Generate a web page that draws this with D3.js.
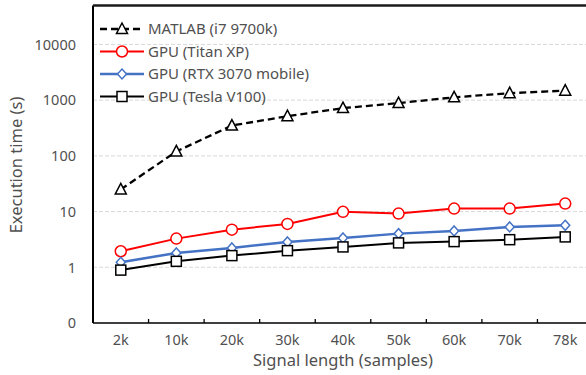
<!DOCTYPE html>
<html>
<head>
<meta charset="utf-8">
<script src="https://cdn.jsdelivr.net/npm/d3@7"></script>
<style>
  body { margin: 0; background: #fff; }
  svg { display: block; font-family: "Noto Sans", "Liberation Sans", sans-serif; }
  .tick-label { fill: #505050; font-size: 14.5px; }
  .axis-title { fill: #505050; font-size: 16.5px; }
  .legend-label { fill: #505050; font-size: 15px; }
</style>
</head>
<body>
<svg id="chart" width="586" height="375"></svg>
<script>
const categories = ['2k', '10k', '20k', '30k', '40k', '50k', '60k', '70k', '78k'];
const yTicks = [0.1, 1, 10, 100, 1000, 10000];

const matlab = [25, 120, 350, 515, 720, 885, 1125, 1335, 1480];
const titanXp = [1.94, 3.27, 4.74, 6.0, 9.9, 9.2, 11.3, 11.3, 13.9];
const rtx3070 = [1.23, 1.81, 2.23, 2.85, 3.37, 4.02, 4.49, 5.3, 5.66];
const teslaV100 = [0.89, 1.28, 1.62, 1.99, 2.32, 2.74, 2.89, 3.13, 3.51];

const series = [
  { name: 'MATLAB (i7 9700k)', values: matlab, color: '#000', dash: '7,4', width: 2.3, marker: 'triangle' },
  { name: 'GPU (Titan XP)', values: titanXp, color: '#ff0000', dash: null, width: 2, marker: 'circle' },
  { name: 'GPU (RTX 3070 mobile)', values: rtx3070, color: '#4472c4', dash: null, width: 2.5, marker: 'diamond' },
  { name: 'GPU (Tesla V100)', values: teslaV100, color: '#000', dash: null, width: 2, marker: 'square' }
];

const margin = { left: 93, top: 5.5, bottom: 52 };
const plotWidth = 500;
const svg = d3.select('#chart');
const height = 375 - margin.top - margin.bottom;

const x = d3.scaleBand().domain(categories).range([0, plotWidth]);
const y = d3.scaleLog().domain([0.1, 50000]).range([height, 0]);

const g = svg.append('g').attr('transform', `translate(${margin.left},${margin.top})`);

// dashed gridlines
g.selectAll('.grid')
  .data(yTicks.slice(1))
  .enter()
  .append('line')
  .attr('x1', 0)
  .attr('x2', plotWidth)
  .attr('y1', d => y(d))
  .attr('y2', d => y(d))
  .attr('stroke', '#d9d9d9')
  .attr('stroke-width', 1)
  .attr('stroke-dasharray', '4,2');

// y axis labels (0.1 shown as 0)
g.selectAll('.ylab')
  .data(yTicks)
  .enter()
  .append('text')
  .attr('class', 'tick-label')
  .attr('x', -17)
  .attr('y', d => y(d))
  .attr('dy', '0.36em')
  .attr('text-anchor', 'end')
  .text(d => (d < 1 ? '0' : d3.format('d')(d)));

// x axis labels
g.selectAll('.xlab')
  .data(categories)
  .enter()
  .append('text')
  .attr('class', 'tick-label')
  .attr('x', d => x(d) + x.bandwidth() / 2)
  .attr('y', height + 22)
  .attr('text-anchor', 'middle')
  .text(d => d);

// inside tick marks between categories
g.selectAll('.xtick')
  .data(categories.slice(1))
  .enter()
  .append('line')
  .attr('x1', d => x(d))
  .attr('x2', d => x(d))
  .attr('y1', height)
  .attr('y2', height - 4)
  .attr('stroke', '#000')
  .attr('stroke-width', 1.3);

// frame: left, top, bottom
g.append('line').attr('x1', 0).attr('x2', 0).attr('y1', 0).attr('y2', height)
  .attr('stroke', '#000').attr('stroke-width', 2);
g.append('line').attr('x1', 0).attr('x2', plotWidth).attr('y1', 0).attr('y2', 0)
  .attr('stroke', '#1a1a1a').attr('stroke-width', 2.5);
g.append('line').attr('x1', 0).attr('x2', plotWidth).attr('y1', height).attr('y2', height)
  .attr('stroke', '#000').attr('stroke-width', 1.5);

const cx = i => x(categories[i]) + x.bandwidth() / 2;

function drawMarker(sel, kind, color) {
  if (kind === 'circle') {
    sel.append('circle').attr('r', 5.5)
      .attr('fill', '#fff').attr('stroke', color).attr('stroke-width', 1.5);
  } else if (kind === 'triangle') {
    sel.append('path').attr('d', 'M0,-6L5.5,4.5L-5.5,4.5Z')
      .attr('fill', '#fff').attr('stroke', color).attr('stroke-width', 1.5);
  } else if (kind === 'diamond') {
    sel.append('path').attr('d', 'M0,-5L4.5,0L0,5L-4.5,0Z')
      .attr('fill', '#fff').attr('stroke', color).attr('stroke-width', 1.5);
  } else {
    sel.append('rect').attr('x', -5).attr('y', -5).attr('width', 10).attr('height', 10)
      .attr('fill', '#fff').attr('stroke', color).attr('stroke-width', 1.5);
  }
}

const line = d3.line().x((d, i) => cx(i)).y(d => y(d));

series.forEach(s => {
  g.append('path')
    .datum(s.values)
    .attr('fill', 'none')
    .attr('stroke', s.color)
    .attr('stroke-width', s.width)
    .attr('stroke-dasharray', s.dash)
    .attr('d', line);
  s.values.forEach((v, i) => {
    const m = g.append('g').attr('transform', `translate(${cx(i)},${y(v)})`);
    drawMarker(m, s.marker, s.color);
  });
});

// legend
const legend = svg.append('g').attr('transform', 'translate(100,29)');
series.forEach((s, i) => {
  const row = legend.append('g').attr('transform', `translate(0,${i * 22.5})`);
  row.append('line')
    .attr('x1', 0).attr('x2', 44)
    .attr('stroke', s.color)
    .attr('stroke-width', s.width)
    .attr('stroke-dasharray', s.dash);
  drawMarker(row.append('g').attr('transform', 'translate(22,0)'), s.marker, s.color);
  row.append('text')
    .attr('class', 'legend-label')
    .attr('x', 48)
    .attr('dy', '0.36em')
    .text(s.name);
});

// axis titles
svg.append('text')
  .attr('class', 'axis-title')
  .attr('text-anchor', 'middle')
  .attr('transform', 'translate(22,165) rotate(-90)')
  .text('Execution time (s)');

svg.append('text')
  .attr('class', 'axis-title')
  .attr('text-anchor', 'middle')
  .attr('x', 343)
  .attr('y', 366)
  .text('Signal length (samples)');
</script>
</body>
</html>
